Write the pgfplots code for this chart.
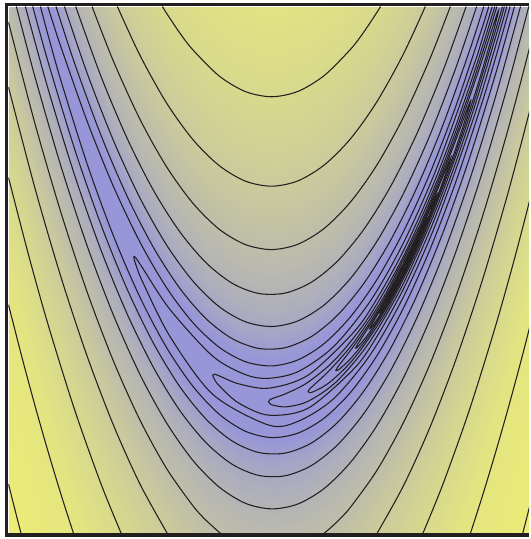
\documentclass[border=0pt]{standalone}
\usepackage{pgfplots}
\pgfplotsset{compat=1.18}
\definecolor{linec}{RGB}{35,31,32}
\pgfplotsset{ctr/.style={color=linec, line width=0.8pt, smooth, no markers},
  base/.style={scale only axis, width=390.375pt, height=395.25pt, xmin=-2, xmax=1.9545, ymin=-1, ymax=3, hide axis, at={(0,0)}, anchor=south west}}
\begin{document}
\begin{tikzpicture}
\path (-6.375pt,-4.125pt) rectangle (390.375pt,400.125pt);
\begin{axis}[base, view={0}{90},
  colormap={rb}{rgb255(0pt)=(150,150,216); rgb255(5pt)=(150,150,216); rgb255(17pt)=(193,193,166); rgb255(25pt)=(228,229,128); rgb255(29pt)=(236,236,118)},
  point meta min=0.5, point meta max=3.4]
\addplot3[surf, shader=interp, point meta=explicit] table[x index=0, y index=1, z index=2, meta index=2] {
-2 -1 3.400
-2 0 3.207
-2 1 2.959
-2 1.5 2.802
-2 2 2.612
-2 2.5 2.369
-2 3 2.037
-2 3.3 1.763
-2 3.5 1.531
-2 3.7 1.255
-2 3.85 1.051
-2 4 0.954
-2 4.15 1.051
-2 4.3 1.255
-2 4.5 1.531
-2 4.7 1.763
-2 5 2.037
-2 5.5 2.369
-2 6 2.612
-2 6.5 2.802
-2 7 2.959

-1.75 -1.9375 3.399
-1.75 -0.9375 3.206
-1.75 0.0625 2.958
-1.75 0.5625 2.801
-1.75 1.0625 2.610
-1.75 1.5625 2.367
-1.75 2.0625 2.032
-1.75 2.3625 1.753
-1.75 2.5625 1.513
-1.75 2.7625 1.219
-1.75 2.9125 0.992
-1.75 3.0625 0.879
-1.75 3.2125 0.992
-1.75 3.3625 1.219
-1.75 3.5625 1.513
-1.75 3.7625 1.753
-1.75 4.0625 2.032
-1.75 4.5625 2.367
-1.75 5.0625 2.610
-1.75 5.5625 2.801
-1.75 6.0625 2.958

-1.5 -2.75 3.399
-1.5 -1.75 3.206
-1.5 -0.75 2.957
-1.5 -0.25 2.800
-1.5 0.25 2.609
-1.5 0.75 2.364
-1.5 1.25 2.027
-1.5 1.55 1.742
-1.5 1.75 1.495
-1.5 1.95 1.183
-1.5 2.1 0.929
-1.5 2.25 0.796
-1.5 2.4 0.929
-1.5 2.55 1.183
-1.5 2.75 1.495
-1.5 2.95 1.742
-1.5 3.25 2.027
-1.5 3.75 2.364
-1.5 4.25 2.609
-1.5 4.75 2.800
-1.5 5.25 2.957

-1.25 -3.4375 3.399
-1.25 -2.4375 3.205
-1.25 -1.4375 2.957
-1.25 -0.9375 2.799
-1.25 -0.4375 2.608
-1.25 0.0625 2.362
-1.25 0.5625 2.021
-1.25 0.8625 1.733
-1.25 1.0625 1.478
-1.25 1.2625 1.148
-1.25 1.4125 0.864
-1.25 1.5625 0.704
-1.25 1.7125 0.864
-1.25 1.8625 1.148
-1.25 2.0625 1.478
-1.25 2.2625 1.733
-1.25 2.5625 2.021
-1.25 3.0625 2.362
-1.25 3.5625 2.608
-1.25 4.0625 2.799
-1.25 4.5625 2.957

-1 -4 3.398
-1 -3 3.205
-1 -2 2.956
-1 -1.5 2.799
-1 -1 2.606
-1 -0.5 2.360
-1 0 2.017
-1 0.3 1.724
-1 0.5 1.462
-1 0.7 1.114
-1 0.85 0.796
-1 1 0.602
-1 1.15 0.796
-1 1.3 1.114
-1 1.5 1.462
-1 1.7 1.724
-1 2 2.017
-1 2.5 2.360
-1 3 2.606
-1 3.5 2.799
-1 4 2.956

-0.75 -4.4375 3.398
-0.75 -3.4375 3.205
-0.75 -2.4375 2.956
-0.75 -1.9375 2.798
-0.75 -1.4375 2.605
-0.75 -0.9375 2.358
-0.75 -0.4375 2.013
-0.75 -0.1375 1.717
-0.75 0.0625 1.448
-0.75 0.2625 1.081
-0.75 0.4125 0.725
-0.75 0.5625 0.5
-0.75 0.7125 0.725
-0.75 0.8625 1.081
-0.75 1.0625 1.448
-0.75 1.2625 1.717
-0.75 1.5625 2.013
-0.75 2.0625 2.358
-0.75 2.5625 2.605
-0.75 3.0625 2.798
-0.75 3.5625 2.956

-0.5 -4.75 3.398
-0.5 -3.75 3.205
-0.5 -2.75 2.955
-0.5 -2.25 2.798
-0.5 -1.75 2.605
-0.5 -1.25 2.357
-0.5 -0.75 2.010
-0.5 -0.45 1.710
-0.5 -0.25 1.435
-0.5 -0.05 1.051
-0.5 0.1 0.653
-0.5 0.25 0.5
-0.5 0.4 0.653
-0.5 0.55 1.051
-0.5 0.75 1.435
-0.5 0.95 1.710
-0.5 1.25 2.010
-0.5 1.75 2.357
-0.5 2.25 2.605
-0.5 2.75 2.798
-0.5 3.25 2.955

-0.25 -4.9375 3.398
-0.25 -3.9375 3.204
-0.25 -2.9375 2.955
-0.25 -2.4375 2.797
-0.25 -1.9375 2.604
-0.25 -1.4375 2.355
-0.25 -0.9375 2.007
-0.25 -0.6375 1.704
-0.25 -0.4375 1.424
-0.25 -0.2375 1.024
-0.25 -0.0875 0.581
-0.25 0.0625 0.5
-0.25 0.2125 0.581
-0.25 0.3625 1.024
-0.25 0.5625 1.424
-0.25 0.7625 1.704
-0.25 1.0625 2.007
-0.25 1.5625 2.355
-0.25 2.0625 2.604
-0.25 2.5625 2.797
-0.25 3.0625 2.955

0 -5 3.398
0 -4 3.204
0 -3 2.955
0 -2.5 2.797
0 -2 2.603
0 -1.5 2.354
0 -1 2.004
0 -0.7 1.699
0 -0.5 1.415
0 -0.3 1.000
0 -0.15 0.512
0 0 0.5
0 0.15 0.512
0 0.3 1.000
0 0.5 1.415
0 0.7 1.699
0 1 2.004
0 1.5 2.354
0 2 2.603
0 2.5 2.797
0 3 2.955

0.25 -4.9375 3.398
0.25 -3.9375 3.204
0.25 -2.9375 2.954
0.25 -2.4375 2.796
0.25 -1.9375 2.603
0.25 -1.4375 2.353
0.25 -0.9375 2.002
0.25 -0.6375 1.695
0.25 -0.4375 1.408
0.25 -0.2375 0.981
0.25 -0.0875 0.5
0.25 0.0625 0.5
0.25 0.2125 0.5
0.25 0.3625 0.981
0.25 0.5625 1.408
0.25 0.7625 1.695
0.25 1.0625 2.002
0.25 1.5625 2.353
0.25 2.0625 2.603
0.25 2.5625 2.796
0.25 3.0625 2.954

0.5 -4.75 3.398
0.5 -3.75 3.204
0.5 -2.75 2.954
0.5 -2.25 2.796
0.5 -1.75 2.602
0.5 -1.25 2.353
0.5 -0.75 2.001
0.5 -0.45 1.692
0.5 -0.25 1.402
0.5 -0.05 0.966
0.5 0.1 0.5
0.5 0.25 0.5
0.5 0.4 0.5
0.5 0.55 0.966
0.5 0.75 1.402
0.5 0.95 1.692
0.5 1.25 2.001
0.5 1.75 2.353
0.5 2.25 2.602
0.5 2.75 2.796
0.5 3.25 2.954

0.75 -4.4375 3.398
0.75 -3.4375 3.204
0.75 -2.4375 2.954
0.75 -1.9375 2.796
0.75 -1.4375 2.602
0.75 -0.9375 2.352
0.75 -0.4375 2.000
0.75 -0.1375 1.691
0.75 0.0625 1.399
0.75 0.2625 0.957
0.75 0.4125 0.5
0.75 0.5625 0.5
0.75 0.7125 0.5
0.75 0.8625 0.957
0.75 1.0625 1.399
0.75 1.2625 1.691
0.75 1.5625 2.000
0.75 2.0625 2.352
0.75 2.5625 2.602
0.75 3.0625 2.796
0.75 3.5625 2.954

1 -4 3.398
1 -3 3.204
1 -2 2.954
1 -1.5 2.796
1 -1 2.602
1 -0.5 2.352
1 0 2.000
1 0.3 1.690
1 0.5 1.398
1 0.7 0.954
1 0.85 0.5
1 1 0.5
1 1.15 0.5
1 1.3 0.954
1 1.5 1.398
1 1.7 1.690
1 2 2.000
1 2.5 2.352
1 3 2.602
1 3.5 2.796
1 4 2.954

1.25 -3.4375 3.398
1.25 -2.4375 3.204
1.25 -1.4375 2.954
1.25 -0.9375 2.796
1.25 -0.4375 2.602
1.25 0.0625 2.352
1.25 0.5625 2.000
1.25 0.8625 1.691
1.25 1.0625 1.399
1.25 1.2625 0.957
1.25 1.4125 0.5
1.25 1.5625 0.5
1.25 1.7125 0.5
1.25 1.8625 0.957
1.25 2.0625 1.399
1.25 2.2625 1.691
1.25 2.5625 2.000
1.25 3.0625 2.352
1.25 3.5625 2.602
1.25 4.0625 2.796
1.25 4.5625 2.954

1.5 -2.75 3.398
1.5 -1.75 3.204
1.5 -0.75 2.954
1.5 -0.25 2.796
1.5 0.25 2.602
1.5 0.75 2.353
1.5 1.25 2.001
1.5 1.55 1.692
1.5 1.75 1.402
1.5 1.95 0.966
1.5 2.1 0.5
1.5 2.25 0.5
1.5 2.4 0.5
1.5 2.55 0.966
1.5 2.75 1.402
1.5 2.95 1.692
1.5 3.25 2.001
1.5 3.75 2.353
1.5 4.25 2.602
1.5 4.75 2.796
1.5 5.25 2.954

1.75 -1.9375 3.398
1.75 -0.9375 3.204
1.75 0.0625 2.954
1.75 0.5625 2.796
1.75 1.0625 2.603
1.75 1.5625 2.353
1.75 2.0625 2.002
1.75 2.3625 1.695
1.75 2.5625 1.408
1.75 2.7625 0.981
1.75 2.9125 0.5
1.75 3.0625 0.5
1.75 3.2125 0.5
1.75 3.3625 0.981
1.75 3.5625 1.408
1.75 3.7625 1.695
1.75 4.0625 2.002
1.75 4.5625 2.353
1.75 5.0625 2.603
1.75 5.5625 2.796
1.75 6.0625 2.954

2 -1 3.398
2 0 3.204
2 1 2.955
2 1.5 2.797
2 2 2.603
2 2.5 2.354
2 3 2.004
2 3.3 1.699
2 3.5 1.415
2 3.7 1.000
2 3.85 0.512
2 4 0.5
2 4.15 0.512
2 4.3 1.000
2 4.5 1.415
2 4.7 1.699
2 5 2.004
2 5.5 2.354
2 6 2.603
2 6.5 2.797
2 7 2.955
};
\end{axis}
\begin{axis}[base]
% level 2148
\addplot[ctr] coordinates {(-2,-0.625) (-1.95,-0.823) (-1.9045,-1)};
\addplot[ctr] coordinates {(1.9065,-1) (1.95,-0.831) (2,-0.634)};
% level 1074
\addplot[ctr] coordinates {(-2,0.737) (-1.9,0.346) (-1.8,-0.025) (-1.7,-0.376) (-1.6,-0.707) (-1.5058,-1)};
\addplot[ctr] coordinates {(1.5089,-1) (1.6,-0.717) (1.7,-0.386) (1.8,-0.036) (1.9,0.334) (2,0.724)};
% level 537
\addplot[ctr] coordinates {(-0.8306,3) (-0.8,2.950) (-0.7,2.801) (-0.6,2.672) (-0.4,2.473) (-0.2,2.354) (0,2.315) (0.2,2.356) (0.4,2.477) (0.6,2.677) (0.7,2.807) (0.8,2.957) (0.8263,3)};
\addplot[ctr] coordinates {(-2,1.702) (-1.85,1.123) (-1.7,0.588) (-1.5,-0.054) (-1.3,-0.616) (-1.1434,-1)};
\addplot[ctr] coordinates {(1.1477,-1) (1.3,-0.627) (1.5,-0.067) (1.7,0.574) (1.85,1.107) (2,1.685)};
% level 268.6
\addplot[ctr] coordinates {(-1.173,3) (-1.0,2.627) (-0.8,2.269) (-0.6,1.991) (-0.4,1.793) (-0.2,1.6745) (0,1.636) (0.2,1.677) (0.4,1.798) (0.6,1.998) (0.8,2.279) (1.0,2.639) (1.1668,3)};
\addplot[ctr] coordinates {(-2,2.389) (-1.8,1.625) (-1.6,0.942) (-1.4,0.339) (-1.2,-0.184) (-1.0,-0.627) (-0.7932,-1)};
\addplot[ctr] coordinates {(0.7993,-1) (1.0,-0.639) (1.2,-0.199) (1.4,0.322) (1.6,0.922) (1.8,1.603) (2,2.364)};
% level 134.3
\addplot[ctr] coordinates {(-1.3655,3) (-1.2,2.578) (-1.0,2.1415) (-0.8,1.785) (-0.6,1.508) (-0.4,1.310) (-0.2,1.193) (0,1.155) (0.2,1.196) (0.4,1.317) (0.6,1.518) (0.8,1.799) (1.0,2.159) (1.2,2.599) (1.3571,3)};
\addplot[ctr] coordinates {(-2,2.881) (-1.8,2.115) (-1.6,1.431) (-1.4,0.826) (-1.2,0.302) (-1.0,-0.1415) (-0.8,-0.505) (-0.6,-0.788) (-0.5,-0.899) (-0.388,-1)};
\addplot[ctr] coordinates {(0.3965,-1) (0.5,-0.908) (0.6,-0.798) (0.8,-0.519) (1.0,-0.159) (1.2,0.281) (1.4,0.802) (1.6,1.403) (1.8,2.084) (2,2.845)};
% level 67.15
\addplot[ctr] coordinates {(-1.4897,3) (-1.3,2.4765) (-1.1,2.002) (-0.9,1.607) (-0.7,1.292) (-0.5,1.056) (-0.3,0.899) (-0.1,0.822) (0.1,0.8245) (0.3,0.9065) (0.5,1.068) (0.7,1.309) (0.9,1.629) (1.1,2.029) (1.3,2.509) (1.4771,3)};
\addplot[ctr] coordinates {(-1.9403,3) (-1.8,2.47) (-1.6,1.783) (-1.4,1.1765) (-1.2,0.651) (-1.0,0.205) (-0.8,-0.159) (-0.6,-0.444) (-0.4,-0.647) (-0.2,-0.771) (0,-0.813) (0.2,-0.7755) (0.4,-0.657) (0.6,-0.458) (0.8,-0.179) (1.0,0.181) (1.2,0.621) (1.4,1.142) (1.6,1.743) (1.8,2.4245) (1.9529,3)};
% level 33.57
\addplot[ctr] coordinates {(-1.5751,3) (-1.4,2.487) (-1.2,1.976) (-1.0,1.544) (-0.8,1.191) (-0.6,0.917) (-0.4,0.722) (-0.2,0.607) (0,0.571) (0.2,0.614) (0.4,0.736) (0.6,0.938) (0.8,1.219) (1.0,1.579) (1.2,2.019) (1.4,2.538) (1.5567,3)};
\addplot[ctr] coordinates {(-1.8717,3) (-1.7,2.377) (-1.5,1.727) (-1.3,1.158) (-1.1,0.670) (-0.9,0.263) (-0.7,-0.064) (-0.5,-0.310) (-0.3,-0.475) (-0.1,-0.559) (0.1,-0.562) (0.3,-0.485) (0.5,-0.327) (0.7,-0.089) (0.9,0.231) (1.1,0.631) (1.3,1.111) (1.5,1.673) (1.7,2.315) (1.8901,3)};
% level 16.78
\addplot[ctr] coordinates {(-1.6392,3) (-1.5,2.5745) (-1.3,2.029) (-1.1,1.562) (-0.9,1.173) (-0.7,0.863) (-0.5,0.631) (-0.3,0.4785) (-0.1,0.405) (0.1,0.410) (0.3,0.494) (0.5,0.657) (0.7,0.8985) (0.9,1.22) (1.1,1.62) (1.3,2.0985) (1.5,2.657) (1.6109,3)};
\addplot[ctr] coordinates {(-1.8159,3) (-1.7,2.582) (-1.5,1.9255) (-1.3,1.351) (-1.1,0.858) (-0.9,0.447) (-0.7,0.117) (-0.5,-0.131) (-0.3,-0.2985) (-0.1,-0.385) (0.1,-0.390) (0.3,-0.314) (0.5,-0.157) (0.7,0.0815) (0.9,0.40) (1.1,0.80) (1.3,1.2815) (1.5,1.843) (1.7,2.486) (1.84414,3)};
% level 8.39
\addplot[ctr] coordinates {(-1.7016,3) (-1.65,2.839) (-1.6,2.688) (-1.4,2.122) (-1.2,1.628) (-1.0,1.2095) (-0.8,0.867) (-0.6,0.6015) (-0.4,0.414) (-0.2,0.304) (0,0.272) (0.2,0.318) (0.4,0.443) (0.6,0.647) (0.8,0.929) (1.0,1.29) (1.2,1.729) (1.4,2.247) (1.6,2.843) (1.6486,3)};
\addplot[ctr] coordinates {(-1.7575,3) (-1.7,2.785) (-1.6,2.432) (-1.4,1.798) (-1.2,1.252) (-1.0,0.7905) (-0.8,0.413) (-0.6,0.1185) (-0.4,-0.094) (-0.2,-0.224) (0,-0.272) (0.2,-0.238) (0.4,-0.123) (0.6,0.073) (0.8,0.351) (1.0,0.71) (1.2,1.151) (1.4,1.673) (1.6,2.277) (1.7,2.609) (1.8105,3)};
% level 4.196
\addplot[ctr] coordinates {(1.6752,3) (1.6,2.756) (1.5301,2.5391) (1.25,1.7658) (1,1.2048) (0.75,0.7658) (0.4699,0.4187) (0.2,0.2286) (-0.0242,0.1780) (-0.2,0.206) (-0.4484,0.3459) (-0.7739,0.7013) (-0.9786,1.0107) (-1.0309,1.0895) (-1.0484,1.0991) (-1.0309,1.0361) (-0.9786,0.9047) (-0.7739,0.4965) (-0.4484,0.0563) (-0.0242,-0.1768) (0.2,-0.1486) (0.4699,0.0229) (0.75,0.3592) (1,0.7952) (1.25,1.3592) (1.5301,2.1433) (1.7,2.6975) (1.7858,3)};
% level 2.098
\addplot[ctr] coordinates {(1.695,3) (1.55,2.5365) (1.3749,2.0303) (1.2,1.5835) (1,1.1449) (0.8,0.7835) (0.6251,0.5307) (0.2757,0.2014) (-0.0243,0.1030) (-0.2544,0.1371) (-0.3991,0.1968) (-0.4361,0.2091) (-0.4485,0.2011) (-0.4361,0.1713) (-0.3991,0.1218) (-0.2544,-0.0077) (-0.0243,-0.1018) (0.2757,-0.0494) (0.6251,0.2509) (0.8,0.4965) (1,0.8551) (1.2,1.2965) (1.3749,1.7505) (1.55,2.2685) (1.7243,2.8478) (1.7672,3)};
% level 1.049
\addplot[ctr] coordinates {(1.7106,3) (1.5121,2.3751) (1.2651,1.6994) (1,1.1024) (0.7349,0.6390) (0.4879,0.3267) (0.2758,0.1485) (0.1130,0.0640) (0.0107,0.0266) (-0.0154,0.0136) (-0.0242,0.0006) (-0.0154,-0.0132) (0.0107,-0.0264) (0.1130,-0.0384) (0.2758,0.0037) (0.4879,0.1493) (0.7349,0.4412) (1,0.8976) (1.2651,1.5016) (1.5121,2.1977) (1.7242,2.9005) (1.752,3)};
% level 0.5245 (closed)
\addplot[ctr] coordinates {(0.8743,0.8357) (1.1257,1.3385) (1.3621,1.9180) (1.5548,2.4640) (1.6805,2.8489) (1.7132,2.9477) (1.7242,2.9729) (1.7132,2.9225) (1.6805,2.7993) (1.5548,2.3708) (1.3621,1.7926) (1.1257,1.1959) (0.8743,0.6931) (0.6379,0.3442) (0.4452,0.1516) (0.3195,0.0773) (0.2868,0.0697) (0.2758,0.0761) (0.2868,0.0949) (0.3195,0.1269) (0.4452,0.2448) (0.6379,0.4696) (0.8743,0.8357) (1.1257,1.3385)};
% level 0.2622
\addplot[ctr] coordinates {(0.9111,0.8805) (1.0889,1.2361) (1.2561,1.6221) (1.3923,1.9714) (1.4812,2.2115) (1.5043,2.2718) (1.5121,2.2864) (1.5043,2.2540) (1.4812,2.1765) (1.3923,1.9056) (1.2561,1.5335) (1.0889,1.1353) (0.9111,0.7797) (0.7439,0.5091) (0.6077,0.3364) (0.5188,0.2517) (0.4957,0.2368) (0.4879,0.2380) (0.4957,0.2546) (0.5188,0.2867) (0.6077,0.4022) (0.7439,0.5977) (0.9111,0.8805) (1.0889,1.2361)};
% level 0.1311
\addplot[ctr] coordinates {(0.9371,0.9139) (1.0629,1.1655) (1.1811,1.4264) (1.2774,1.6551) (1.3403,1.8088) (1.3566,1.8467) (1.3621,1.8553) (1.3566,1.8341) (1.3403,1.7840) (1.2774,1.6085) (1.1811,1.3636) (1.0629,1.0941) (0.9371,0.8425) (0.8189,0.6392) (0.7226,0.4989) (0.6597,0.4228) (0.6434,0.4077) (0.6379,0.4069) (0.6434,0.4203) (0.6597,0.4476) (0.7226,0.5455) (0.8189,0.7020) (0.9371,0.9139) (1.0629,1.1655)};
% level 0.0656
\addplot[ctr] coordinates {(1,1.0256) (1.1281,1.2948) (1.2218,1.5056) (1.2474,1.5626) (1.2561,1.5778) (1.2474,1.5494) (1.2218,1.4800) (1.1281,1.2504) (1,0.9744) (0.8719,0.7380) (0.7782,0.5928) (0.7526,0.5598) (0.7439,0.5534) (0.7526,0.5730) (0.7782,0.6184) (0.8719,0.7824) (1,1.0256) (1.1281,1.2948)};
% level 0.0328
\addplot[ctr] coordinates {(1,1.0181) (1.1281,1.2854) (1.1702,1.3756) (1.1811,1.3950) (1.1702,1.3632) (1.1281,1.2598) (1,0.9819) (0.8719,0.7474) (0.8298,0.6824) (0.8189,0.6706) (0.8298,0.6948) (0.8719,0.7730) (1,1.0181) (1.1281,1.2854)};
% level 0.0164
\addplot[ctr] coordinates {(1,1.0128) (1.0905,1.1983) (1.1203,1.2595) (1.128,1.2724) (1.1203,1.2507) (1.0905,1.1802) (1,0.9872) (0.9095,0.8182) (0.8797,0.7695) (0.872,0.7604) (0.8797,0.7783) (0.9095,0.8363) (1,1.0128) (1.0905,1.1983)};
% minimum
\addplot[only marks, mark=*, mark size=1.9pt, color=linec] coordinates {(1,1)};
\end{axis}
\draw[line width=2.625pt, color=linec] (390.375pt,-1.3125pt) -- (-1.3125pt,-1.3125pt) -- (-1.3125pt,396.5625pt) -- (390.375pt,396.5625pt);
\end{tikzpicture}
\end{document}
